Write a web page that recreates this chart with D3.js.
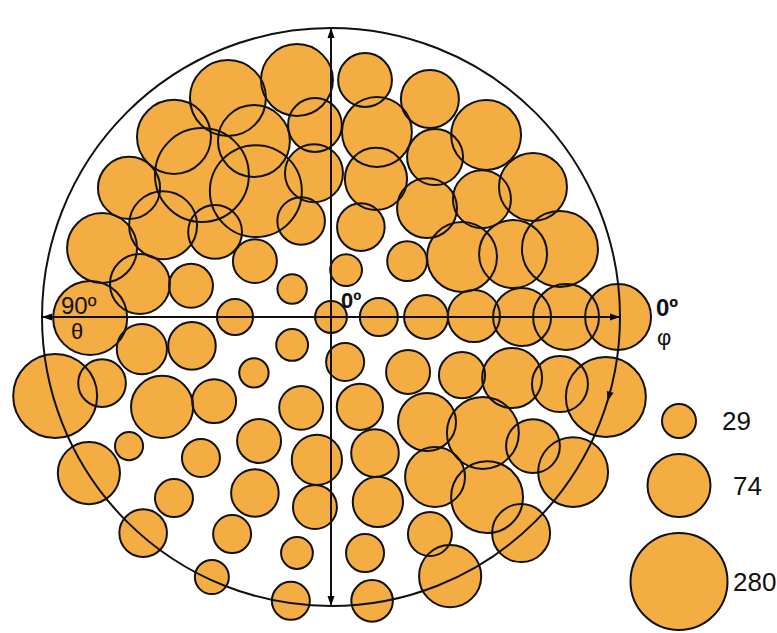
<!DOCTYPE html>
<html>
<head>
<meta charset="utf-8">
<script src="https://cdn.jsdelivr.net/npm/d3@7"></script>
<style>
  body { margin: 0; background: #fff; }
  svg { display: block; }
  text { font-family: "Liberation Sans", Arial, sans-serif; fill: #111; }
</style>
</head>
<body>
<svg id="chart"></svg>
<script>
// projected angle coordinates (deg): tx = theta*cos(phi), ty = theta*sin(phi), phi clockwise
var tx = [-10.6, 10.6, 30.8, 48.3, 14.3, 32.4, -5.0, -5.3, 14.0, 29.9, 47.0, 62.9,
  -32.1, -48.9, -24.0, -40.2, -23.4, -62.9, -52.3, -36.1, -71.3, -59.5, -75.0, -43.6,
  -29.9, -58.9, -43.3, -85.9, -71.3, -52.6, -36.4, -23.7, -24.0, -9.3, 9.3, 4.7,
  23.7, 40.8, 56.7, -12.1, 0, 14.9, 29.6, 44.5, 59.5, -12.1, 4.4, 24.0,
  40.8, 56.4, -9.3, 9.0, 29.9, 47.3, 71.3, 73.2, 89.4, 71.3, 85.6, -75.4,
  -62.9, -40.5, -23.7, -48.9, -58.5, -30.8, -37.1, -22.4, -4.4, 13.7, -5.0, 14.6,
  -10.6, 10.6, -12.5, 12.8, 30.8, 37.1, 32.4, 48.6, 59.2, 75.4, 62.9]
var ty = [-73.8, -73.8, -67.9, -56.7, -57.6, -49.8, -59.8, -44.8, -43.0, -33.9, -36.7, -40.5,
  -68.2, -56.1, -54.8, -44.2, -39.2, -40.2, -28.6, -26.5, -21.5, -10.3, 0.3, -9.7,
  0, 10.0, 9.0, 24.6, 20.6, 28.0, 26.2, -17.4, 17.4, -29.9, -28.0, -14.6,
  -17.4, -18.7, -19.6, -8.7, 0, 0, 0, -0.3, 0, 8.7, 14.0, 17.1,
  18.1, 19.0, 28.3, 28.0, 32.7, 36.1, -21.2, 0, 0, 20.9, 24.9, 48.6,
  40.2, 43.9, 54.8, 56.4, 67.3, 67.6, 81.0, 38.6, 44.5, 42.4, 59.2, 57.6,
  73.5, 73.5, 88.4, 88.4, 67.6, 80.7, 49.8, 56.1, 67.3, 48.3, 40.2]
var counts = [105, 55, 63, 97, 97, 59, 55, 63, 72, 67, 63, 90,
  123, 114, 105, 248, 230, 72, 90, 55, 97, 67, 114, 40,
  31, 49, 45, 168, 45, 72, 40, 40, 25, 45, 45, 27,
  35, 97, 90, 25, 27, 33, 40, 52, 63, 27, 33, 40,
  43, 67, 40, 43, 63, 105, 123, 83, 83, 59, 144, 72,
  24, 33, 45, 33, 45, 33, 29, 40, 49, 45, 40, 49,
  27, 33, 33, 37, 40, 72, 67, 105, 63, 97, 55]

var legendValues = [29, 74, 280]

var cx = 331, cy = 317, R = 289
var fillColor = '#f3ad43'

var svg = d3.select('#chart')
  .attr('width', 777)
  .attr('height', 633)

var x = d3.scaleLinear().domain([-90, 90]).range([cx - R, cx + R])
var y = d3.scaleLinear().domain([-90, 90]).range([cy - R, cy + R])
var size = d3.scaleLog().domain([29, 74, 280]).range([17, 31.5, 48.5])

var defs = svg.append('defs')
defs.append('marker')
  .attr('id', 'arrow')
  .attr('viewBox', '0 -5 10 10')
  .attr('refX', 10)
  .attr('refY', 0)
  .attr('markerUnits', 'userSpaceOnUse')
  .attr('markerWidth', 10)
  .attr('markerHeight', 10)
  .attr('orient', 'auto-start-reverse')
  .append('path')
  .attr('d', 'M0,-3.5L10,0L0,3.5Z')
  .attr('fill', '#000')

var bubbles = tx.map(function(d, i) {
  return { tx: d, ty: ty[i], n: counts[i] }
})

// fills first, outlines on top so every ring stays visible
svg.append('g').selectAll('circle')
  .data(bubbles)
  .enter()
  .append('circle')
  .attr('cx', function(d) { return x(d.tx) })
  .attr('cy', function(d) { return y(d.ty) })
  .attr('r', function(d) { return size(d.n) })
  .attr('fill', fillColor)

svg.append('g').selectAll('circle')
  .data(bubbles)
  .enter()
  .append('circle')
  .attr('cx', function(d) { return x(d.tx) })
  .attr('cy', function(d) { return y(d.ty) })
  .attr('r', function(d) { return size(d.n) })
  .attr('fill', 'none')
  .attr('stroke', '#111')
  .attr('stroke-width', 2)

// theta = 90 boundary
svg.append('circle')
  .attr('cx', x(0))
  .attr('cy', y(0))
  .attr('r', x(90) - x(0))
  .attr('fill', 'none')
  .attr('stroke', '#111')
  .attr('stroke-width', 2)

// direction of phi on the rim
var phiMark = 16 * Math.PI / 180
svg.append('path')
  .attr('d', 'M-5,-3.5L5,0L-5,3.5Z')
  .attr('fill', '#111')
  .attr('transform', 'translate(' + x(90 * Math.cos(phiMark)) + ',' + y(90 * Math.sin(phiMark)) +
    ') rotate(' + (16 + 90) + ')')

svg.append('line')
  .attr('x1', x(-90)).attr('y1', y(0))
  .attr('x2', x(90)).attr('y2', y(0))
  .attr('stroke', '#111')
  .attr('stroke-width', 2)
  .attr('marker-start', 'url(#arrow)')
  .attr('marker-end', 'url(#arrow)')

svg.append('line')
  .attr('x1', x(0)).attr('y1', y(-90))
  .attr('x2', x(0)).attr('y2', y(90))
  .attr('stroke', '#111')
  .attr('stroke-width', 2)
  .attr('marker-start', 'url(#arrow)')
  .attr('marker-end', 'url(#arrow)')

svg.append('text')
  .attr('x', x(0) + 10).attr('y', y(0) - 9)
  .attr('font-size', 22).attr('font-weight', 'bold')
  .text('0º')
svg.append('text')
  .attr('x', 656).attr('y', 316)
  .attr('font-size', 24).attr('font-weight', 'bold')
  .text('0º')
svg.append('text')
  .attr('x', 657).attr('y', 345)
  .attr('font-size', 22)
  .text('φ')
svg.append('text')
  .attr('x', 61).attr('y', 314)
  .attr('font-size', 24)
  .text('90º')
svg.append('text')
  .attr('x', 71).attr('y', 339)
  .attr('font-size', 22)
  .text('θ')

// size legend
var legend = svg.append('g')
var ly = 404
legendValues.forEach(function(v, i) {
  var r = size(v)
  ly += r
  legend.append('circle')
    .attr('cx', 679).attr('cy', ly).attr('r', r)
    .attr('fill', fillColor)
    .attr('stroke', '#111')
    .attr('stroke-width', 2)
  legend.append('text')
    .attr('x', i === 0 ? 722 : 733)
    .attr('y', ly + 9)
    .attr('font-size', 26)
    .text(v)
  ly += r + 16
})
</script>
</body>
</html>
